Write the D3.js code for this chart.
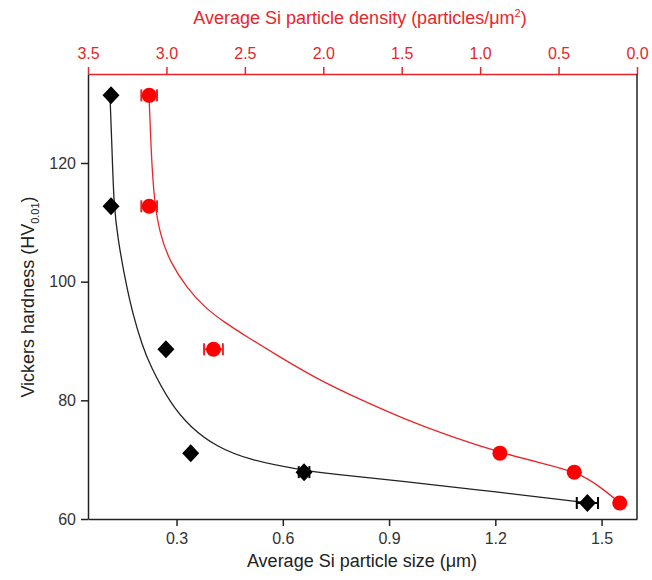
<!DOCTYPE html>
<html>
<head>
<meta charset="utf-8">
<script src="https://cdn.jsdelivr.net/npm/d3@7"></script>
<style>
  body { margin: 0; background: #fff; }
  svg { font-family: "Liberation Sans", Arial, sans-serif; }
</style>
</head>
<body>
<div id="viz"></div>
<script>
// Vickers hardness vs Si particle size (bottom axis, black) and density (top axis, red)

var hardness = [131.4, 112.7, 88.6, 71.1, 67.9, 62.7];
var sizeVals = [0.115, 0.115, 0.27, 0.34, 0.66, 1.46];
var sizeErr = [0, 0, 0, 0, 0.015, 0.03];
var densityVals = [3.11, 3.11, 2.70, 0.874, 0.40, 0.11];
var densityErr = [0.05, 0.05, 0.06, 0, 0, 0];

// fitted curves
var sizeFitX = [0.112, 0.118, 0.123, 0.135, 0.155, 0.177, 0.203, 0.225, 0.282, 0.338, 0.414, 0.508, 0.649, 0.734, 0.931, 1.214, 1.462];
var sizeFitY = [131.4, 122.2, 112.7, 107.0, 100.3, 94.4, 89.3, 85.9, 79.5, 75.5, 72.1, 69.9, 68.3, 67.6, 66.4, 64.5, 62.7];
var densFitX = [3.111, 3.098, 3.079, 3.041, 2.977, 2.869, 2.754, 2.633, 2.486, 2.295, 2.027, 1.753, 1.498, 1.179, 0.860, 0.605, 0.382, 0.242, 0.109];
var densFitY = [131.4, 122.2, 113.7, 107.9, 103.3, 98.9, 95.6, 93.2, 90.7, 87.6, 83.4, 80.0, 77.0, 73.8, 71.1, 69.4, 67.9, 65.6, 62.7];

var sizeTicks = [0.3, 0.6, 0.9, 1.2, 1.5];
var densTicks = [3.5, 3.0, 2.5, 2.0, 1.5, 1.0, 0.5, 0.0];
var hardTicks = [60, 80, 100, 120];

var red = "#e8262a";
var dark = "#222";
var plotL = 88, plotR = 637, plotT = 74, plotB = 519;

var svg = d3.select("#viz").append("svg").attr("width", 652).attr("height", 580);

var x = d3.scaleLinear().domain([0.05, 1.6]).range([plotL, plotR]);
var x2 = d3.scaleLinear().domain([3.5, 0.0]).range([plotL, plotR]);
var y = d3.scaleLinear().domain([60, 135]).range([plotB, plotT]);

// axes
var xAxis = svg.append("g").attr("transform", "translate(0," + plotB + ")")
  .call(d3.axisBottom(x).tickValues(sizeTicks).tickFormat(d3.format(".1f")).tickSizeInner(7).tickSizeOuter(0).tickPadding(7));
var x2Axis = svg.append("g").attr("transform", "translate(0," + plotT + ")")
  .call(d3.axisTop(x2).tickValues(densTicks).tickFormat(d3.format(".1f")).tickSizeInner(7).tickSizeOuter(0).tickPadding(8));
var yAxis = svg.append("g").attr("transform", "translate(" + plotL + ",0)")
  .call(d3.axisLeft(y).tickValues(hardTicks).tickSizeInner(7).tickSizeOuter(0).tickPadding(5));
svg.append("line").attr("x1", plotR).attr("x2", plotR).attr("y1", plotT).attr("y2", plotB)
  .attr("stroke", dark).attr("stroke-width", 1.5);

xAxis.selectAll("path, line").attr("stroke", dark).attr("stroke-width", 1.5);
yAxis.selectAll("path, line").attr("stroke", dark).attr("stroke-width", 1.5);
x2Axis.selectAll("path, line").attr("stroke", red).attr("stroke-width", 1.5);
xAxis.selectAll("text").attr("font-size", 16).attr("fill", "#333");
yAxis.selectAll("text").attr("font-size", 16).attr("fill", "#333");
x2Axis.selectAll("text").attr("font-size", 16).attr("fill", red);

// titles
svg.append("text").attr("x", 362).attr("y", 567).attr("text-anchor", "middle")
  .attr("font-size", 18).attr("fill", "#222")
  .text("Average Si particle size (\u03bcm)");
var t2 = svg.append("text").attr("x", 360).attr("y", 24).attr("text-anchor", "middle")
  .attr("font-size", 18).attr("fill", red);
t2.append("tspan").text("Average Si particle density (particles/\u03bcm");
t2.append("tspan").attr("font-size", 11).attr("dy", -7).text("2");
t2.append("tspan").attr("dy", 7).text(")");
var t3 = svg.append("text").attr("transform", "translate(34,297) rotate(-90)").attr("text-anchor", "middle")
  .attr("font-size", 18).attr("fill", "#222");
t3.append("tspan").text("Vickers hardness (HV");
t3.append("tspan").attr("font-size", 11).attr("dy", 5).text("0.01");
t3.append("tspan").attr("dy", -5).text(")");

// fitted curves
var line1 = d3.line().x(function(d) { return x(d[0]); }).y(function(d) { return y(d[1]); }).curve(d3.curveBasis);
var line2 = d3.line().x(function(d) { return x2(d[0]); }).y(function(d) { return y(d[1]); }).curve(d3.curveBasis);
svg.append("path").datum(d3.zip(sizeFitX, sizeFitY)).attr("d", line1)
  .attr("fill", "none").attr("stroke", "#222").attr("stroke-width", 1.3);
svg.append("path").datum(d3.zip(densFitX, densFitY)).attr("d", line2)
  .attr("fill", "none").attr("stroke", red).attr("stroke-width", 1.3);

// error bars
function errbars(g, scale, vals, errs, col) {
  vals.forEach(function(v, i) {
    if (!errs[i]) return;
    var a = scale(v - errs[i]), b = scale(v + errs[i]), yy = y(hardness[i]);
    g.append("line").attr("x1", a).attr("x2", b).attr("y1", yy).attr("y2", yy).attr("stroke", col).attr("stroke-width", 2);
    [a, b].forEach(function(p) {
      g.append("line").attr("x1", p).attr("x2", p).attr("y1", yy - 6).attr("y2", yy + 6).attr("stroke", col).attr("stroke-width", 2);
    });
  });
}
var eg = svg.append("g");
errbars(eg, x2, densityVals, densityErr, red);
errbars(eg, x, sizeVals, sizeErr, "#000");

// markers
svg.append("g").selectAll("circle").data(densityVals).join("circle")
  .attr("cx", function(d) { return x2(d); })
  .attr("cy", function(d, i) { return y(hardness[i]); })
  .attr("r", 7.5).attr("fill", "#f00");
svg.append("g").selectAll("path").data(sizeVals).join("path")
  .attr("transform", function(d, i) { return "translate(" + x(d) + "," + y(hardness[i]) + ")"; })
  .attr("d", "M0,-9L8.5,0L0,9L-8.5,0Z").attr("fill", "#000");
</script>
</body>
</html>
